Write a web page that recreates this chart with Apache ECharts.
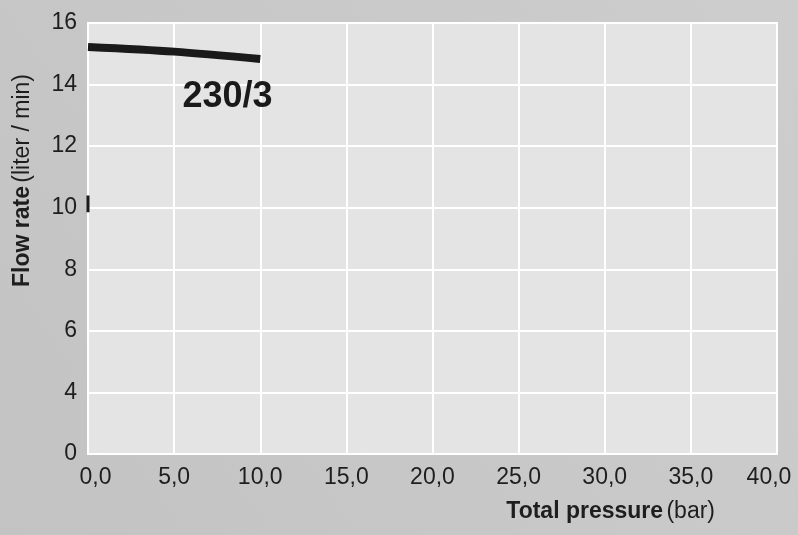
<!DOCTYPE html>
<html><head><meta charset="utf-8">
<script src="https://cdn.jsdelivr.net/npm/echarts@6/dist/echarts.min.js"></script>
<style>html,body{margin:0;padding:0;background:#c8c8c8}#c{width:798px;height:535px}</style>
</head><body><div id="c"></div><script>
const pressure = [0, 5, 10];
const flow = [15.22, 15.07, 14.83];
const markX = [0, 0];
const markY = [9.85, 10.4];
const curveLabel = '230/3';
const curveLabelAt = [8.1, 13.6];
const xTickLabels = ['0,0','5,0','10,0','15,0','20,0','25,0','30,0','35,0','40,0'];
const yTickValues = [2, 4, 6, 8, 10, 12, 14, 16];
const yTickLabels = ['0', '4', '6', '8', '10', '12', '14', '16'];

const FONT = "'Liberation Sans', Arial, Helvetica, sans-serif";
const TXT = '#1e1e1e';
const chart = echarts.init(document.getElementById('c'), null, {renderer: 'canvas'});
chart.setOption({
  animation: false,
  backgroundColor: {
    type: 'linear', x: 0, y: 1, x2: 1, y2: 0,
    colorStops: [{offset: 0, color: '#c3c3c3'}, {offset: 1, color: '#cdcdcd'}]
  },
  grid: {
    left: 88, right: 21, top: 23, bottom: 81,
    outerBoundsMode: 'none', containLabel: false,
    show: true, backgroundColor: '#e4e4e4', borderColor: '#ffffff', borderWidth: 2
  },
  xAxis: {
    type: 'value', min: 0, max: 40, interval: 5,
    axisLine: {show: false}, axisTick: {show: false},
    splitLine: {show: true, lineStyle: {color: '#ffffff', width: 2}},
    axisLabel: {
      margin: 12, fontSize: 23, color: TXT, fontFamily: FONT,
      formatter: v => {
        const i = Math.round(v / 5);
        const t = xTickLabels[i];
        if (i === 0) return '{first|' + t + '}';
        if (i === xTickLabels.length - 1) return '{last|' + t + '}';
        return t;
      },
      rich: {
        first: {fontSize: 23, color: TXT, fontFamily: FONT, padding: [0, 0, 0, 15]},
        last: {fontSize: 23, color: TXT, fontFamily: FONT, padding: [0, 16, 0, 0]}
      }
    },
    name: '{b|Total pressure} {r|(bar)}',
    nameLocation: 'end', nameGap: -62, nameMoveOverlap: false,
    nameTextStyle: {
      align: 'right', verticalAlign: 'top', padding: [46, 0, 0, 0],
      rich: {
        b: {fontSize: 23, fontWeight: 'bold', color: TXT, fontFamily: FONT},
        r: {fontSize: 23, color: TXT, fontFamily: FONT}
      }
    }
  },
  yAxis: {
    type: 'value', min: 2, max: 16, interval: 2,
    axisLine: {show: false}, axisTick: {show: false},
    splitLine: {show: true, lineStyle: {color: '#ffffff', width: 2}},
    axisLabel: {
      margin: 11, fontSize: 23, color: TXT, fontFamily: FONT,
      formatter: v => yTickLabels[yTickValues.indexOf(Math.round(v))]
    },
    name: '{b|Flow rate} {r|(liter / min)}',
    nameLocation: 'middle', nameGap: 54, nameRotate: 90, nameMoveOverlap: false,
    nameTextStyle: {
      padding: [0, 0, 0, 116],
      rich: {
        b: {fontSize: 23, fontWeight: 'bold', color: TXT, fontFamily: FONT},
        r: {fontSize: 23, color: TXT, fontFamily: FONT}
      }
    }
  },
  series: [
    {
      type: 'line', data: pressure.map((p, i) => [p, flow[i]]),
      smooth: 0.3, symbol: 'none',
      lineStyle: {color: '#1a1a1a', width: 8, cap: 'butt'}
    },
    {
      type: 'line', data: markX.map((p, i) => [p, markY[i]]),
      symbol: 'none', lineStyle: {color: '#1a1a1a', width: 3, cap: 'butt'}
    },
    {
      type: 'scatter', data: [curveLabelAt], symbolSize: 1,
      itemStyle: {color: 'rgba(0,0,0,0)', opacity: 1},
      label: {
        show: true, position: 'inside', formatter: curveLabel,
        fontSize: 36, fontWeight: 'bold', color: '#1a1a1a', fontFamily: FONT
      }
    }
  ]
});
</script></body></html>
